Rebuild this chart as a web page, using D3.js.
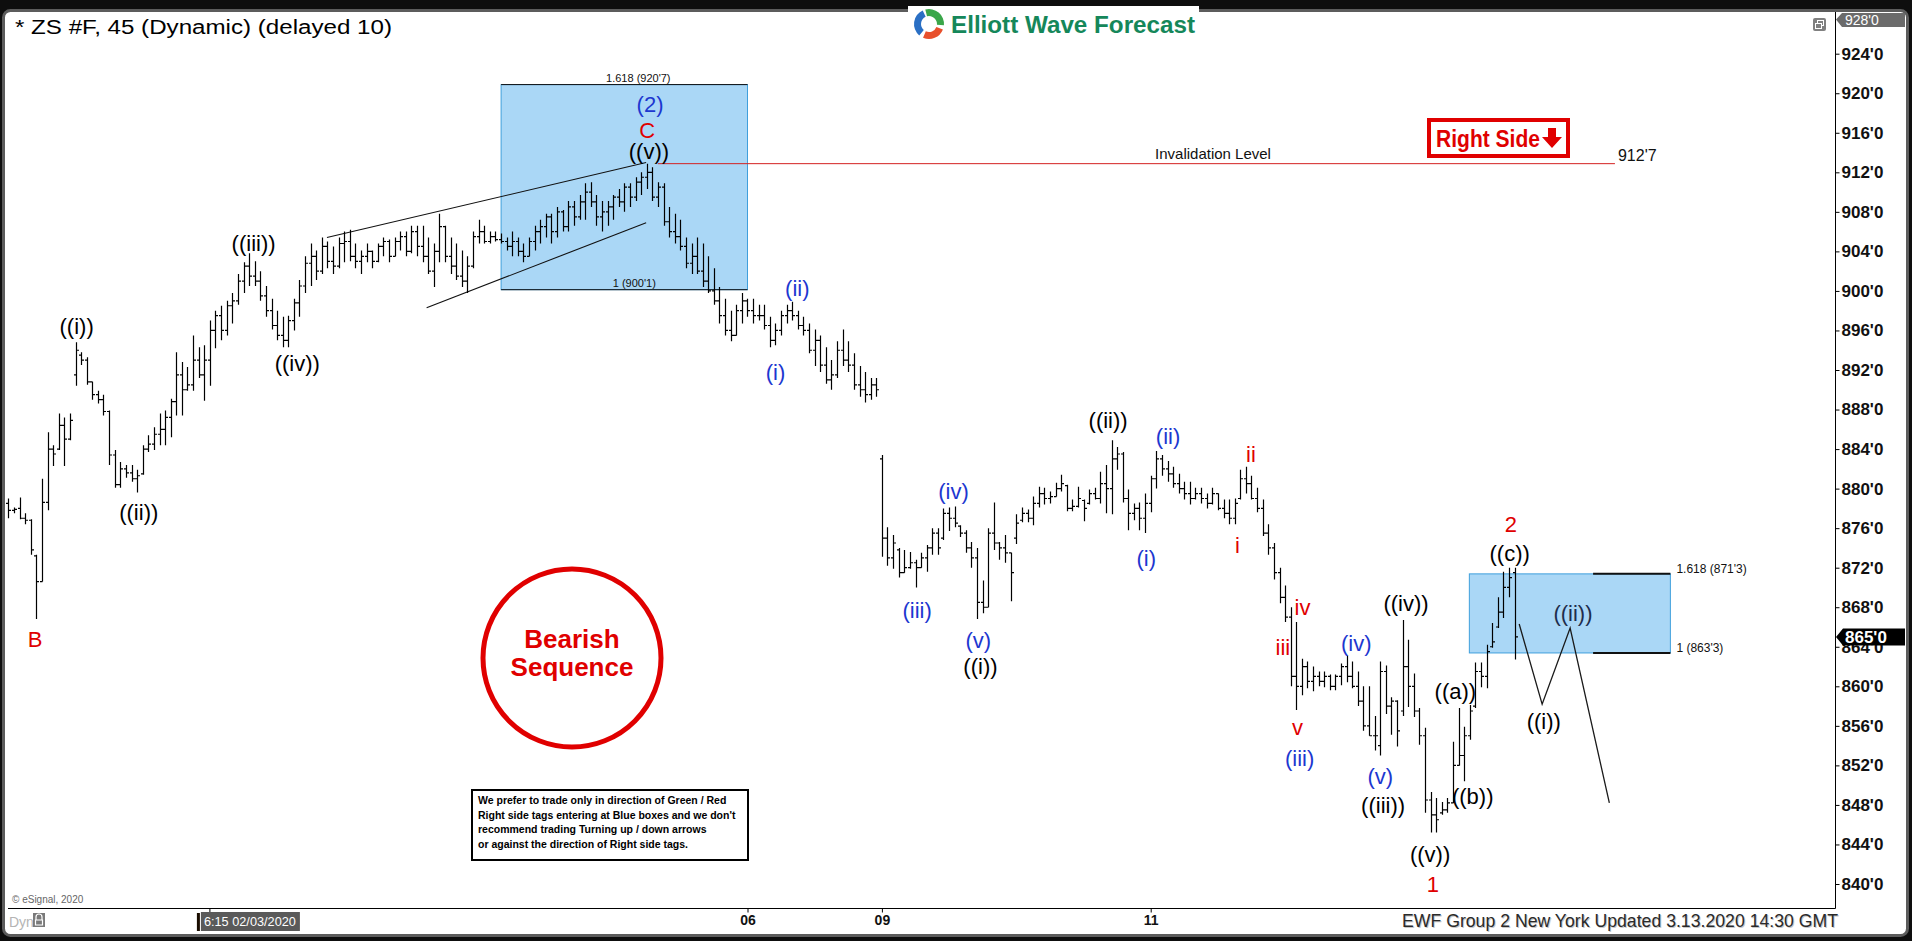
<!DOCTYPE html>
<html><head><meta charset="utf-8">
<script src="https://cdn.jsdelivr.net/npm/d3@7"></script>
<style>
body{margin:0;background:#0e0e0e;overflow:hidden}
svg{display:block}
text{font-family:"Liberation Sans",Arial,sans-serif}
</style>
</head><body>
<svg id="c" width="1912" height="941"></svg>
<script>
// ---------------- DATA ----------------
const opens=[878.5,877.8,878.0,877.0,876.8,873.2,870.6,878.6,884.0,884.0,
886.4,885.0,891.5,893.5,893.0,890.8,889.5,889.0,887.8,883.4,
880.4,882.0,881.6,881.0,881.5,884.0,884.5,885.5,886.0,887.2,
888.8,891.5,890.0,890.5,893.0,891.5,893.0,896.0,897.5,896.0,
898.5,899.0,901.0,902.5,901.5,901.0,899.5,898.0,896.5,895.5,
895.0,897.0,898.8,900.5,902.8,903.5,902.0,904.5,903.0,902.5,
904.8,905.0,903.5,903.0,903.5,904.0,903.0,904.5,905.0,903.5,
905.0,905.5,904.0,906.0,904.5,903.5,902.0,904.0,906.5,903.5,
902.5,901.5,901.0,902.5,905.5,906.0,905.0,905.5,905.2,905.0,
904.5,905.0,904.0,903.5,905.0,906.0,906.5,907.5,906.0,908.0,
906.5,908.5,907.5,909.0,910.0,909.0,907.5,908.0,908.5,909.5,
909.0,910.5,909.5,911.0,911.5,912.0,909.5,910.5,907.0,906.0,
905.5,904.5,902.8,903.5,902.0,901.0,900.0,899.0,897.5,896.0,
895.5,898.0,899.0,898.0,897.5,897.5,896.5,895.0,896.0,897.5,
898.0,897.5,896.5,896.0,894.0,895.0,892.5,891.0,891.5,894.0,
893.0,892.5,890.5,890.0,889.5,890.5,883.0,875.0,873.0,873.8,
871.5,872.0,872.5,872.0,873.0,874.0,875.5,875.0,877.5,877.0,
876.2,875.5,874.0,873.0,868.5,868.0,875.5,874.5,874.0,873.5,
875.0,876.8,877.5,877.0,878.5,879.5,879.0,879.2,880.0,880.3,
878.0,878.2,878.8,878.5,879.5,879.0,880.5,880.0,883.0,883.5,
879.0,877.5,878.0,877.0,878.5,881.0,883.0,882.0,881.5,880.5,
880.0,879.5,879.0,879.5,879.0,878.5,879.5,878.0,877.5,877.0,
879.0,881.0,880.5,879.0,878.0,875.5,874.0,871.5,869.0,867.0,
861.0,860.0,862.0,860.5,861.0,860.5,861.0,860.0,861.0,862.0,
861.0,860.0,858.5,856.0,855.0,854.0,861.5,858.0,858.5,857.5,
862.0,860.0,857.5,855.0,848.5,847.0,847.2,847.5,848.2,852.0,
853.0,855.0,858.0,861.5,861.0,864.0,866.0,867.5,870.0,871.5];
const highs=[879.0,878.1,879.1,877.5,876.9,873.3,881.0,885.7,884.4,887.6,
887.2,887.6,894.8,893.8,893.3,890.8,889.9,889.5,887.9,883.9,
882.7,882.4,882.4,881.9,884.4,885.4,886.2,887.6,887.9,889.1,
893.8,892.8,892.3,895.5,894.3,894.5,897.0,898.0,898.5,899.0,
899.8,901.7,902.9,903.8,903.0,902.0,900.5,899.2,898.0,897.4,
897.5,899.2,901.1,903.5,904.8,904.1,905.4,905.0,904.5,905.4,
906.0,906.2,904.8,904.1,904.8,904.1,904.8,905.4,905.2,905.4,
906.0,906.0,906.6,906.6,906.6,905.4,904.8,907.8,906.6,905.4,
904.8,904.1,903.5,906.0,907.2,906.6,906.0,906.0,905.8,905.4,
906.0,905.4,904.8,905.4,906.6,907.2,907.8,907.8,908.5,908.2,
909.1,909.1,909.7,910.9,911.0,909.7,909.1,909.1,909.7,910.3,
910.9,910.9,911.5,912.0,912.875,912.5,911.0,910.9,908.5,907.8,
907.2,905.4,904.8,905.4,904.8,903.5,902.3,900.4,899.2,898.0,
898.6,899.8,899.2,899.2,898.6,898.6,897.4,896.7,898.0,898.6,
898.9,898.0,897.4,896.7,896.1,895.5,894.3,893.0,894.9,896.1,
894.9,893.7,892.4,891.8,891.2,891.2,883.4,876.1,875.3,874.0,
873.8,873.6,872.8,873.5,874.3,876.0,876.0,878.0,878.1,878.2,
876.3,875.8,874.6,874.0,870.7,876.0,878.6,874.6,875.3,873.5,
877.4,878.1,877.9,879.2,880.2,880.1,879.7,880.6,881.4,880.4,
878.9,880.2,878.9,879.9,880.1,881.7,882.4,884.9,884.2,883.7,
879.9,878.5,878.6,879.5,881.3,883.8,883.4,882.8,882.2,881.5,
880.7,880.7,880.1,880.1,879.5,880.1,879.5,878.9,878.9,879.0,
881.9,882.2,881.3,880.1,878.9,876.4,874.5,872.0,870.2,868.0,
866.5,862.8,862.5,862.0,861.5,861.5,861.2,861.2,862.3,863.1,
862.5,861.5,860.0,860.0,857.0,862.5,862.1,858.9,858.6,866.7,
864.7,861.3,857.8,855.8,849.3,848.7,848.3,848.7,854.4,857.8,
855.9,858.1,862.4,862.4,864.2,866.4,869.0,871.6,872.0,872.0];
const lows=[877.0,877.5,876.9,876.4,873.3,866.8,870.6,877.8,882.3,883.9,
882.3,884.9,890.4,892.5,890.5,889.0,888.6,887.4,882.4,880.1,
880.1,881.1,880.7,879.6,881.4,883.7,883.9,884.4,884.4,885.2,
887.4,887.4,889.9,889.9,891.2,888.9,890.4,894.2,895.0,895.5,
896.7,898.6,899.8,900.5,900.5,899.0,897.4,896.1,895.0,894.3,
894.3,896.0,897.4,899.8,900.5,901.1,901.7,902.3,901.7,902.3,
902.9,903.0,902.3,901.7,902.9,902.3,902.9,903.5,902.9,903.5,
904.1,903.5,903.8,903.5,902.9,901.7,900.4,902.9,902.9,901.7,
901.1,900.4,899.8,902.3,904.8,904.8,904.8,905.0,904.8,904.1,
903.5,903.5,902.9,903.5,904.1,904.8,905.4,904.8,905.4,906.0,
906.0,906.6,907.2,907.2,908.5,906.6,906.0,906.6,907.2,908.5,
908.0,908.5,909.1,909.7,910.3,909.1,908.5,906.6,905.4,904.8,
904.1,902.3,901.7,901.7,900.4,899.8,898.6,896.7,895.5,894.9,
895.5,896.7,897.4,896.7,897.0,896.1,894.3,894.5,895.5,896.7,
897.0,896.1,895.5,893.7,892.4,891.8,890.6,890.0,891.2,892.4,
891.8,890.0,889.3,888.7,889.0,889.3,873.1,872.2,871.9,871.0,
871.5,871.9,870.0,872.0,871.6,873.3,873.3,874.8,875.7,876.1,
875.1,873.5,872.0,866.8,867.4,868.0,873.8,872.8,872.5,868.6,
874.4,876.6,876.6,876.3,878.1,878.4,878.5,879.2,879.7,877.7,
877.7,878.1,876.7,878.4,878.9,878.5,877.5,877.4,881.9,878.6,
875.8,876.8,875.8,875.5,877.6,880.0,881.3,880.7,880.1,879.5,
878.9,878.4,878.9,878.5,878.0,878.4,877.8,877.0,876.4,876.4,
878.9,879.5,878.9,877.6,875.2,873.3,870.8,868.4,866.5,860.0,
857.6,859.1,859.8,859.5,860.0,859.9,859.6,859.6,860.1,860.4,
859.8,858.0,855.5,855.0,853.5,853.0,857.2,855.1,853.9,857.0,
857.9,856.9,854.1,847.2,845.2,845.2,847.0,847.2,848.2,852.0,
850.4,854.6,857.8,859.9,859.8,863.9,865.9,866.9,869.0,862.7];
const closes=[877.8,877.9,877.0,876.8,873.8,870.6,878.6,884.0,883.5,886.4,
885.0,886.9,894.0,893.0,890.8,889.5,889.0,887.8,883.4,880.4,
882.0,881.6,881.0,881.3,884.0,884.5,885.5,886.0,887.2,888.8,
891.5,890.0,890.5,893.0,891.5,893.0,896.0,897.5,896.0,898.5,
899.0,901.0,902.5,901.5,901.0,899.5,898.0,896.5,895.5,895.0,
897.0,898.8,900.5,902.8,903.5,902.0,904.5,903.0,902.5,904.8,
905.0,903.5,903.0,903.5,904.0,903.0,904.5,905.0,903.5,905.0,
905.5,904.0,906.0,904.5,903.5,902.0,904.0,906.5,903.5,902.5,
901.5,901.0,902.5,905.5,906.0,905.0,905.5,905.2,905.0,904.5,
905.0,904.0,903.5,905.0,906.0,906.5,907.5,906.0,908.0,906.5,
908.5,907.5,909.0,910.0,909.0,907.5,908.0,908.5,909.5,909.0,
910.5,909.5,911.0,911.5,912.0,909.5,910.5,907.0,906.0,905.5,
904.5,902.8,903.5,902.0,901.0,900.0,899.0,897.5,896.0,895.5,
898.0,899.0,898.0,897.5,897.5,896.5,895.0,896.0,897.5,898.0,
897.5,896.5,896.0,894.0,895.0,892.5,891.0,891.5,894.0,893.0,
892.5,890.5,890.0,889.5,890.5,890.0,875.0,873.0,874.5,871.5,
872.0,872.5,872.0,873.0,874.0,875.5,874.0,877.5,877.0,876.5,
875.5,874.0,873.0,868.5,868.0,875.5,874.5,874.0,873.5,871.5,
876.5,877.5,877.0,878.5,879.5,879.0,879.2,880.0,880.5,878.0,
878.2,879.0,878.0,879.5,879.0,880.5,880.0,883.0,883.5,879.0,
877.5,878.0,877.0,878.5,881.0,883.0,882.0,881.5,880.5,880.0,
879.5,879.0,879.5,879.0,878.5,879.5,878.0,877.5,877.0,878.5,
881.0,880.5,879.0,878.0,875.5,874.0,871.5,869.0,867.0,861.0,
860.0,862.0,860.5,861.0,860.5,861.0,860.0,861.0,862.0,861.0,
860.0,858.5,856.0,855.0,855.0,861.5,858.0,858.5,855.5,862.0,
860.0,857.5,855.0,848.5,847.0,846.5,847.5,848.2,852.0,853.0,
855.0,857.5,861.5,861.0,863.5,864.5,867.5,870.0,871.0,865.0];

const yTicks=[840,844,848,852,856,860,864,868,872,876,880,884,888,892,896,900,904,908,912,916,920,924];
const topScaleValue=928;
const lastPrice=865;
const xTickLabels=["06","09","11"];
const xTickIndex=[132,156,204];
const cursorIndex=36;
const cursorLabel="6:15 02/03/2020";

// wave labels: bar index, price, text, colour
const waveText=["B","((i))","((ii))","((iii))","((iv))","(2)","C","((v))","(i)","(ii)","(iii)","(iv)","(v)","((i))","((ii))","(i)","(ii)","i","ii","iii","iv","v","(iii)","(iv)","((iv))","(v)","((iii))","((v))","1","((a))","((b))","((c))","2","((i))","((ii))"];
const waveIndex=[4.8,12.2,23.3,43.8,51.6,114.6,114.1,114.4,137.0,140.9,162.3,168.8,173.2,173.6,196.4,203.2,207.1,219.5,221.9,227.6,231.1,230.2,230.6,240.7,249.6,245.0,245.5,253.9,254.4,258.4,261.5,268.1,268.3,274.2,279.4];
const wavePrice=[864.8,896.4,877.6,904.8,892.7,918.9,916.3,914.1,891.8,900.3,867.7,879.8,864.7,862.0,886.9,873.0,885.3,874.3,883.5,864.0,868.0,855.9,852.7,864.4,868.4,850.9,848.0,843.0,840.0,859.5,848.9,873.5,876.4,856.5,867.4];
const waveColor=["r","k","k","k","k","b","r","k","b","b","b","b","b","k","k","b","b","r","r","r","r","r","b","b","k","b","k","k","r","k","k","k","r","k","n"];

// fib target boxes
const boxStart=[88,260.9], boxEnd=[132,296.8];
const boxTop=[920.875,871.375], boxBottom=[900.125,863.375];
const boxLineStart=[88,283];

// wedge lines [i0,p0,i1,p1]
const wedgeUpper=[56.9,905.4,113.9,913.0];
const wedgeLower=[74.7,898.3,113.9,906.9];
// projected path
const projIndex=[269.8,273.9,278.9,285.9];
const projPrice=[866.3,858.2,865.9,848.2];
// invalidation
const invalidPrice=912.875, invalidFrom=116, invalidTo=286.9;

// ---------------- DRAW ----------------
const svg=d3.select("#c");
const fmt=v=>{const f=Math.floor(v+1e-9);return f+"'"+Math.round((v-f)*8);};
const x=d3.scaleLinear().domain([0,269]).range([8.3,8.3+269*5.6]);
const y=d3.scaleLinear().domain([840,924]).range([884,53.7]);
const AX=1835, AY=908.5;

// frame
svg.append("rect").attr("x",0).attr("y",0).attr("width",1912).attr("height",941).attr("fill","#0e0e0e");
svg.append("rect").attr("x",3.5).attr("y",10.5).attr("width",1904).attr("height",925).attr("rx",7)
  .attr("fill","#fff").attr("stroke","#5c5c5c").attr("stroke-width",3);
svg.append("rect").attr("x",908).attr("y",6).attr("width",291).attr("height",10).attr("fill","#fff");

// title
svg.append("text").attr("x",15).attr("y",34).attr("font-size",20).attr("textLength",377)
  .attr("lengthAdjust","spacingAndGlyphs").attr("fill","#000").text("* ZS #F, 45 (Dynamic) (delayed 10)");

// logo
const logo=svg.append("g").attr("transform","translate(929,24)");
const arc=d3.arc().innerRadius(8).outerRadius(15);
[[-0.25,1.65,"#3aa64a"],[1.95,3.55,"#e8502c"],[3.85,5.85,"#2a6fc4"]].forEach(a=>{
  logo.append("path").attr("d",arc({startAngle:a[0],endAngle:a[1]})).attr("fill",a[2]);
});
svg.append("text").attr("x",951).attr("y",33).attr("font-size",23).attr("font-weight","bold")
  .attr("textLength",244).attr("lengthAdjust","spacingAndGlyphs").attr("fill","#15875a").text("Elliott Wave Forecast");

// fib boxes
const boxes=d3.range(boxStart.length);
svg.selectAll(".fb").data(boxes).join("rect").attr("class","fb")
  .attr("x",i=>x(boxStart[i])).attr("y",i=>y(boxTop[i]))
  .attr("width",i=>x(boxEnd[i])-x(boxStart[i])).attr("height",i=>y(boxBottom[i])-y(boxTop[i]))
  .attr("fill","#aad7f6").attr("stroke","#3f9fdc").attr("stroke-width",1);
boxes.forEach(i=>{
  [boxTop[i],boxBottom[i]].forEach(p=>{
    svg.append("line").attr("x1",x(boxLineStart[i])).attr("x2",x(boxEnd[i])).attr("y1",y(p)).attr("y2",y(p))
      .attr("stroke","#111").attr("stroke-width",i==0?1:2);
  });
});
// fib labels
svg.append("text").attr("x",(x(boxStart[0])+x(boxEnd[0]))/2+14).attr("y",y(boxTop[0])-3).attr("text-anchor","middle")
  .attr("font-size",11).attr("fill","#111").text("1.618 ("+fmt(boxTop[0])+")");
svg.append("text").attr("x",(x(boxStart[0])+x(boxEnd[0]))/2+10).attr("y",y(boxBottom[0])-3).attr("text-anchor","middle")
  .attr("font-size",11).attr("fill","#111").text("1 ("+fmt(boxBottom[0])+")");
svg.append("text").attr("x",x(boxEnd[1])+6).attr("y",y(boxTop[1])-1).attr("font-size",12).attr("fill","#111").text("1.618 ("+fmt(boxTop[1])+")");
svg.append("text").attr("x",x(boxEnd[1])+6).attr("y",y(boxBottom[1])-1).attr("font-size",12).attr("fill","#111").text("1 ("+fmt(boxBottom[1])+")");

// invalidation line
svg.append("line").attr("x1",x(invalidFrom)).attr("x2",x(invalidTo)).attr("y1",y(invalidPrice)).attr("y2",y(invalidPrice))
  .attr("stroke","#d42020").attr("stroke-width",1);
svg.append("text").attr("x",1213).attr("y",y(invalidPrice)-5).attr("text-anchor","middle").attr("font-size",15).attr("fill","#111").text("Invalidation Level");
svg.append("text").attr("x",x(invalidTo)+3).attr("y",y(invalidPrice)-3).attr("font-size",16).attr("fill","#111").text(fmt(invalidPrice));

// Right side tag
svg.append("rect").attr("x",1429).attr("y",120).attr("width",139).attr("height",36).attr("fill","#fff").attr("stroke","#e00000").attr("stroke-width",4);
svg.append("text").attr("x",1436).attr("y",147).attr("font-size",23).attr("font-weight","bold").attr("textLength",104)
  .attr("lengthAdjust","spacingAndGlyphs").attr("fill","#e00000").text("Right Side");
svg.append("path").attr("d","M1548,128 H1556 V137 H1562 L1552,148 L1542,137 H1548 Z").attr("fill","#e00000");

// wedge
[wedgeUpper,wedgeLower].forEach(w=>{
  svg.append("line").attr("x1",x(w[0])).attr("y1",y(w[1])).attr("x2",x(w[2])).attr("y2",y(w[3])).attr("stroke","#111").attr("stroke-width",1.1);
});

// bars
const idx=d3.range(opens.length);
svg.append("g").selectAll("path").data(idx).join("path")
  .attr("d",i=>{const X=Math.round(x(i))+0.5;return `M${X},${y(highs[i])}V${y(lows[i])}M${X-2.5},${y(opens[i])}H${X}M${X},${y(closes[i])}H${X+2.5}`;})
  .attr("stroke","#000").attr("stroke-width",1.2).attr("fill","none");

// projection
svg.append("path").attr("d",d3.line()(projIndex.map((d,k)=>[x(d),y(projPrice[k])])))
  .attr("fill","none").attr("stroke","#1a1a1a").attr("stroke-width",1.3);

// wave labels
const colMap={r:"#e00000",k:"#000",b:"#1d37d0",n:"#1e2d4c"};
svg.append("g").selectAll("text").data(waveText).join("text")
  .attr("x",(d,k)=>x(waveIndex[k])).attr("y",(d,k)=>y(wavePrice[k])).attr("dy","0.36em")
  .attr("text-anchor","middle").attr("font-size",22).attr("fill",(d,k)=>colMap[waveColor[k]]).text(d=>d);

// Bearish sequence
svg.append("circle").attr("cx",572).attr("cy",658).attr("r",89).attr("fill","#fff").attr("stroke","#e00000").attr("stroke-width",5);
svg.append("text").attr("x",572).attr("y",648).attr("text-anchor","middle").attr("font-size",26).attr("font-weight","bold").attr("fill","#e00000").text("Bearish");
svg.append("text").attr("x",572).attr("y",676).attr("text-anchor","middle").attr("font-size",26).attr("font-weight","bold").attr("fill","#e00000").text("Sequence");

// disclaimer
svg.append("rect").attr("x",472).attr("y",790).attr("width",276).attr("height",70).attr("fill","#fff").attr("stroke","#000").attr("stroke-width",2);
["We prefer to trade only in direction of Green / Red","Right side tags entering at Blue boxes and we don't","recommend trading Turning up / down arrows","or against the direction of Right side tags."]
.forEach((t,k)=>svg.append("text").attr("x",478).attr("y",804+k*14.5).attr("font-size",10.5).attr("font-weight","bold").attr("fill","#000").text(t));

// axes
svg.append("line").attr("x1",AX+0.5).attr("x2",AX+0.5).attr("y1",12).attr("y2",AY).attr("stroke","#000");
svg.append("line").attr("x1",8).attr("x2",AX+0.5).attr("y1",AY).attr("y2",AY).attr("stroke","#000");
const yAxis=d3.axisRight(y).tickValues(yTicks).tickFormat(fmt).tickSize(4).tickPadding(2);
const ya=svg.append("g").attr("transform",`translate(${AX+0.5},0)`).call(yAxis);
ya.select(".domain").remove();
ya.selectAll("text").attr("font-size",17).attr("font-weight","bold").attr("fill","#111").attr("font-family","Liberation Sans, Arial");
const xAxis=d3.axisBottom(x).tickValues(xTickIndex).tickFormat((d,k)=>xTickLabels[k]).tickSize(4).tickPadding(3);
const xa=svg.append("g").attr("transform",`translate(0,${AY})`).call(xAxis);
xa.select(".domain").remove();
xa.selectAll("text").attr("font-size",14).attr("font-weight","bold").attr("fill","#111").attr("font-family","Liberation Sans, Arial");

// top scale marker
svg.append("path").attr("d","M1836,19.5 L1842,13 H1905 V27 H1842 Z").attr("fill","#6b6b6b");
svg.append("text").attr("x",1845).attr("y",25).attr("font-size",14).attr("fill","#fff").text(fmt(topScaleValue));
// current price marker
const yp=y(lastPrice);
svg.append("path").attr("d",`M1836,${yp} L1843,${yp-8.5} H1905 V${yp+8.5} H1843 Z`).attr("fill","#000");
svg.append("text").attr("x",1845).attr("y",yp+6).attr("font-size",17).attr("font-weight","bold").attr("fill","#fff").text(fmt(lastPrice));
// window icon
svg.append("rect").attr("x",1813).attr("y",18).attr("width",13).attr("height",13).attr("rx",2).attr("fill","#808080");
svg.append("rect").attr("x",1817.5).attr("y",20.5).attr("width",6).attr("height",5).attr("fill","none").attr("stroke","#fff");
svg.append("rect").attr("x",1815.5).attr("y",23.5).attr("width",6).attr("height",5).attr("fill","#808080").attr("stroke","#fff");

// bottom strip
svg.append("text").attr("x",12).attr("y",903).attr("font-size",10).attr("fill","#666").text("© eSignal, 2020");
svg.append("text").attr("x",9).attr("y",927).attr("font-size",14).attr("fill","#b4b4b4").text("Dyn");
svg.append("rect").attr("x",33).attr("y",913).attr("width",12).attr("height",14).attr("fill","#7a7a7a");
svg.append("path").attr("d","M36,920 V917 a3,3 0 0 1 6,0 V920 M35.5,920 H42.5 V925 H35.5 Z").attr("fill","none").attr("stroke","#fff").attr("stroke-width",1.2);
const cx=x(cursorIndex);
svg.append("line").attr("x1",cx).attr("x2",cx).attr("y1",AY).attr("y2",AY+4).attr("stroke","#000");
svg.append("rect").attr("x",cx-13).attr("y",913).attr("width",3).attr("height",18).attr("fill","#1a0d00");
svg.append("rect").attr("x",cx-9).attr("y",912).attr("width",99).attr("height",19).attr("fill","#5a5a5a");
svg.append("text").attr("x",cx-6).attr("y",926).attr("font-size",13).attr("textLength",92).attr("lengthAdjust","spacingAndGlyphs")
  .attr("fill","#fff").text(cursorLabel);
svg.append("text").attr("x",1403).attr("y",928).attr("font-size",19).attr("textLength",436).attr("lengthAdjust","spacingAndGlyphs")
  .attr("fill","#c8c8c8").text("EWF Group 2 New York Updated 3.13.2020 14:30 GMT");
svg.append("text").attr("x",1402).attr("y",927).attr("font-size",19).attr("textLength",436).attr("lengthAdjust","spacingAndGlyphs")
  .attr("fill","#2a2a2a").text("EWF Group 2 New York Updated 3.13.2020 14:30 GMT");
</script>
</body></html>
